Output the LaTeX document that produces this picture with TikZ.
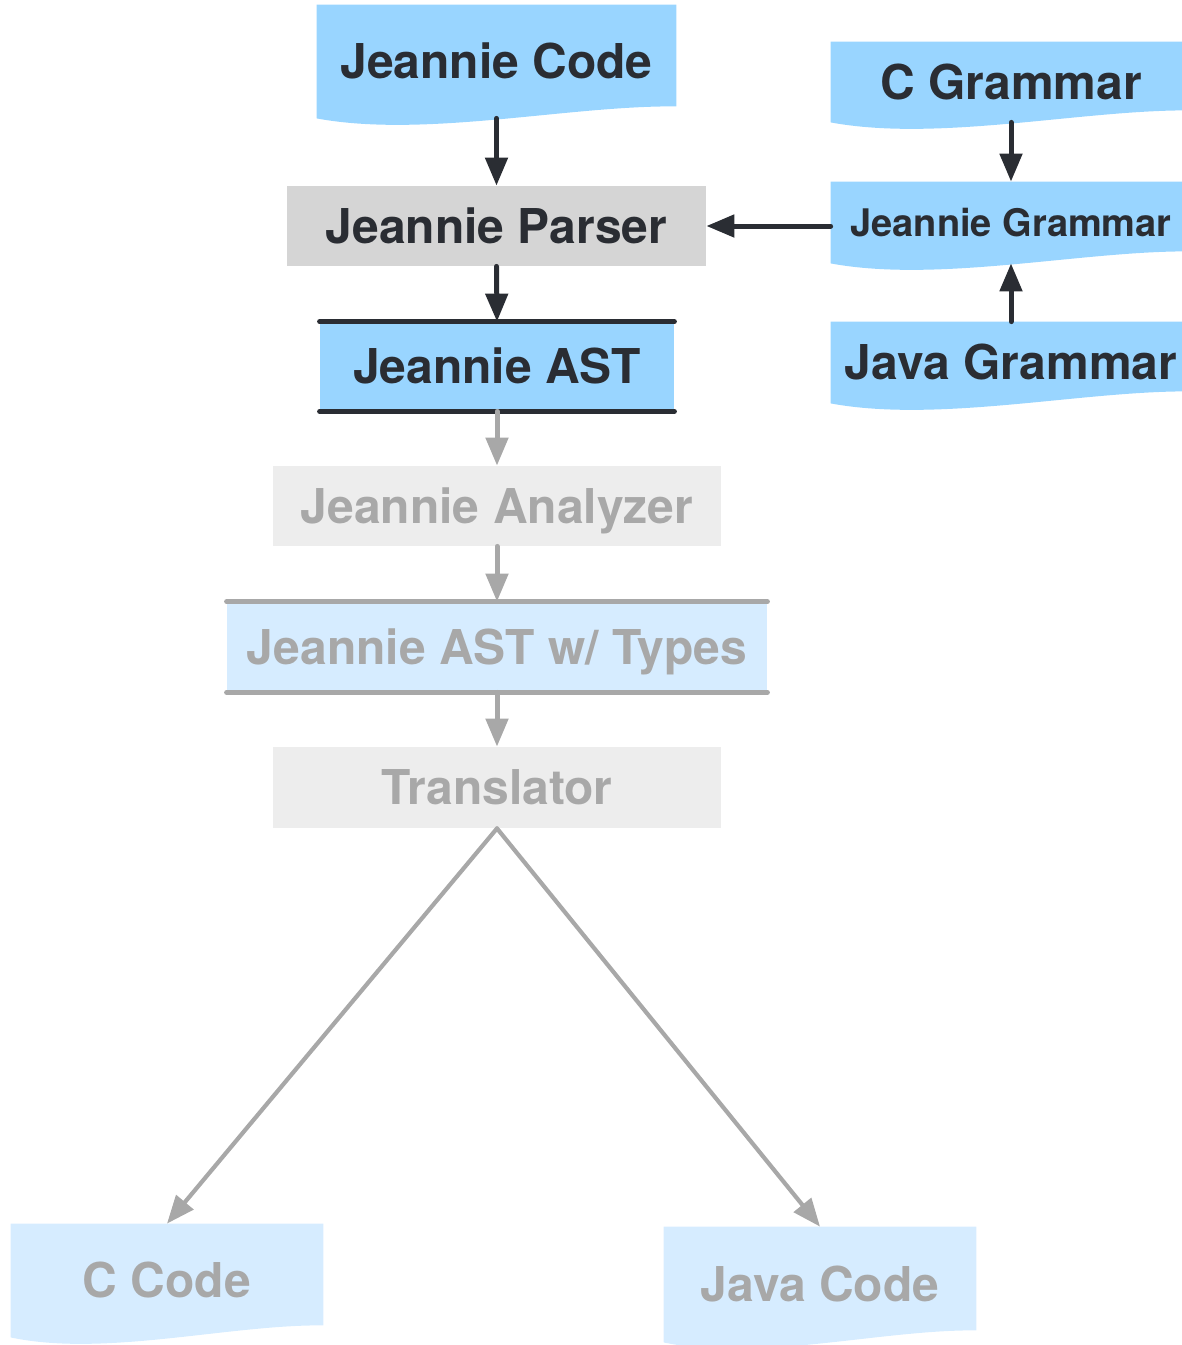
\documentclass[tikz,border=0pt]{standalone}
\usepackage{fontspec}
\setmainfont{TeX Gyre Heros}
\usetikzlibrary{arrows.meta,calc,backgrounds}

\definecolor{docblue}{HTML}{99D5FF}
\definecolor{paleblue}{HTML}{D6ECFF}
\definecolor{boxgray}{HTML}{D5D5D5}
\definecolor{palegray}{HTML}{EDEDED}
\definecolor{ink}{HTML}{2A2D33}
\definecolor{fade}{HTML}{A8A8A8}

\begin{document}
\begin{tikzpicture}
  [x=0.5pt,y=-0.5pt,
   every node/.style={rectangle,inner sep=0pt,text height=17pt,text depth=0pt,
     font=\bfseries\fontsize{24}{28}\selectfont,text=ink},
   small/.style={font=\bfseries\fontsize{19}{22}\selectfont,text height=13.7pt},
   faded/.style={text=fade},
   flow/.style={line width=2.5pt,line cap=round,-{Triangle[length=14pt,width=11pt]}}]
  \useasboundingbox (0,0) rectangle (1182,1345);

  % documents (fill drawn below)
  \node (jcode)  at (496.5,61.5) [minimum width=179.5pt,minimum height=56.5pt] {Jeannie Code};
  \node (cgram)  at (1011,82)    [minimum width=180pt,minimum height=40pt] {C Grammar};
  \node (jgram)  at (1011,222.5) [minimum width=180pt,minimum height=40.5pt,small] {Jeannie Grammar};
  \node (jvgram) at (1011,362.5) [minimum width=180pt,minimum height=40.5pt] {Java Grammar};
  \node (ccode)  at (167,1280.5) [minimum width=156pt,minimum height=56.5pt,faded] {C Code};
  \node (jvcode) at (820,1284.5) [minimum width=156pt,minimum height=57.5pt,faded] {Java Code};

  % processes
  \node (parser)   at (496.5,226) [minimum width=209.5pt,minimum height=40pt,fill=boxgray] {Jeannie Parser};
  \node (analyzer) at (497,506)   [minimum width=224pt,minimum height=40pt,fill=palegray,faded] {Jeannie Analyzer};
  \node (transl)   at (497,787.5) [minimum width=224pt,minimum height=40.5pt,fill=palegray,faded] {Translator};

  % data stores
  \node (ast)  at (497,366.5) [minimum width=177pt,minimum height=44.5pt,fill=docblue] {Jeannie AST};
  \node (astt) at (497,647)   [minimum width=270pt,minimum height=45pt,fill=paleblue,faded] {Jeannie AST w/ Types};

  \foreach \n/\c in {ast/ink,astt/fade}
    \draw[\c,line width=2.5pt,line cap=round]
      (\n.north west) -- (\n.north east) (\n.south west) -- (\n.south east);

  \begin{scope}[on background layer]
    \foreach \n/\c in {jcode/docblue,cgram/docblue,jgram/docblue,jvgram/docblue,ccode/paleblue,jvcode/paleblue}
      \fill[\c] (\n.north west) -- (\n.north east) -- ($(\n.south east)+(0,-12)$)
        .. controls ($(\n.south west)!0.7!(\n.south east)+(0,-13)$)
        and ($(\n.south west)!0.3!(\n.south east)+(0,20)$) .. (\n.south west) -- cycle;
  \end{scope}

  \foreach \from/\to in {jcode.south/parser.north,parser.south/ast.north,
      cgram.south/jgram.north,jvgram.north/jgram.south}
    \draw[flow,ink] (\from) -- (\to);
  \draw[flow,ink] (jgram.west|-parser.east) -- (parser.east);

  \foreach \from/\to in {ast.south/analyzer.north,analyzer.south/astt.north,
      astt.south/transl.north}
    \draw[flow,fade] (\from) -- (\to);
  \foreach \to in {ccode,jvcode}
    \draw[flow,fade,line width=2.1pt] (transl.south) -- (\to.north);
\end{tikzpicture}
\end{document}
